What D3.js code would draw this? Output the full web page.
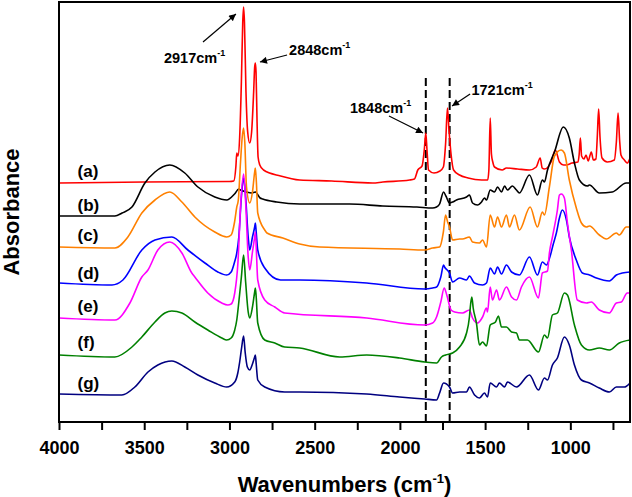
<!DOCTYPE html>
<html><head><meta charset="utf-8">
<script src="https://cdn.jsdelivr.net/npm/d3@7"></script>
<style>
html,body{margin:0;padding:0;background:#fff;}
text{font-family:"Liberation Sans",Arial,sans-serif;font-weight:bold;}
</style></head>
<body>
<svg id="chart" width="632" height="497"></svg>
<script>
// ---------- data (wavenumber cm-1, stacked absorbance a.u.) ----------
const seriesA = [[4000,239],[3500,240],[3000,240.5],[2975,241],[2962,256],[2957,269],[2950,266],[2940,285],[2930,340],[2922,400],[2917,415],[2912,400],[2903,330],[2893,290],[2881,279],[2870,290],[2858,330],[2852,355],[2848,359],[2844,350],[2838,300],[2832,265],[2822,257],[2800,252],[2700,246],[2588,242],[2400,241],[2160,239],[2100,240],[1943,242],[1915,243],[1895,252],[1870,256],[1857,272],[1848,289],[1841,272],[1832,252],[1800,249],[1765,251],[1745,255],[1732,278],[1721,314],[1712,292],[1700,268],[1685,252],[1650,247],[1600,244],[1520,242],[1485,242],[1478,252],[1470,304],[1463,268],[1455,260],[1445,255],[1400,252],[1375,254],[1310,253],[1240,252],[1200,255],[1177,264],[1165,254],[1152,253],[1113,260],[1088,272],[1064,260],[1040,257],[1025,257],[990,259],[955,260],[948,268],[941,284],[934,266],[920,263],[908,267],[895,261],[884,267],[877,270],[865,262],[850,263],[842,285],[834,313],[826,285],[814,264],[783,260],[742,262],[730,280],[720,309],[711,282],[703,267],[683,262],[666,259],[650,264]];
const seriesB = [[4000,206],[3672,206],[3630,209],[3572,215],[3496,239],[3437,250],[3350,257],[3262,249],[3185,235],[3086,225],[3016,222],[2970,228],[2945,233],[2935,232],[2900,230],[2870,229],[2848,230],[2820,224],[2805,223],[2723,220],[2588,218],[2295,218],[2101,216],[1900,215],[1808,214],[1785,215],[1767,218],[1744,230],[1730,226],[1709,219],[1691,220],[1668,222],[1609,225],[1592,227],[1574,219],[1545,217],[1521,220],[1504,224],[1492,222],[1470,232],[1445,230],[1427,235],[1404,230],[1386,236],[1369,232],[1340,236],[1316,232],[1299,229],[1240,247],[1193,227],[1164,242],[1152,240],[1134,252],[1093,270],[1041,295],[1006,284],[976,259],[947,242],[900,236],[888,237],[830,229],[754,230],[672,239],[650,239]];
const seriesC = [[4000,175],[3672,174],[3596,185],[3514,209],[3437,222],[3350,230],[3279,220],[3203,205],[3086,190],[3016,185],[2990,187],[2970,200],[2957,215],[2948,222],[2935,260],[2925,285],[2917,294],[2910,280],[2900,235],[2881,219],[2865,230],[2852,250],[2848,254],[2842,240],[2834,209],[2793,192],[2780,189],[2687,184],[2588,178],[2471,175],[2000,173],[1855,172],[1808,174],[1767,175],[1745,190],[1732,207],[1720,200],[1709,195],[1691,182],[1650,183],[1633,183],[1592,185],[1574,180],[1533,179],[1515,182],[1492,175],[1470,207],[1445,195],[1427,205],[1404,195],[1375,207],[1357,195],[1328,207],[1299,192],[1236,215],[1193,195],[1164,210],[1152,207],[1123,235],[1093,266],[1054,272],[1035,269],[1006,242],[965,214],[935,199],[906,195],[888,196],[830,187],[789,183],[730,189],[713,187],[672,195],[650,195]];
const seriesD = [[4000,139],[3689,137],[3625,142],[3514,172],[3437,182],[3338,185],[3244,172],[3144,159],[3068,150],[3016,147],[2990,150],[2970,160],[2957,169],[2945,185],[2930,225],[2917,244],[2905,225],[2890,185],[2881,172],[2865,185],[2852,195],[2848,199],[2843,190],[2834,172],[2793,154],[2700,142],[2588,142],[2195,139],[1855,133],[1808,134],[1785,135],[1760,145],[1744,157],[1738,155],[1709,149],[1691,140],[1650,144],[1609,142],[1592,146],[1562,139],[1515,137],[1492,139],[1470,154],[1445,148],[1427,155],[1404,148],[1375,157],[1345,150],[1299,147],[1240,165],[1193,147],[1164,160],[1140,157],[1120,165],[1100,178],[1082,189],[1064,204],[1047,212],[1023,202],[1006,185],[965,162],[929,149],[888,147],[847,144],[771,141],[730,147],[695,149],[650,150]];
const seriesE = [[4000,104],[3672,102],[3584,119],[3514,145],[3478,152],[3420,172],[3350,180],[3279,169],[3221,149],[3203,145],[3127,129],[3045,119],[3010,117],[2990,118],[2969,129],[2950,160],[2935,215],[2917,248],[2905,220],[2890,165],[2881,152],[2865,170],[2852,185],[2848,190],[2843,175],[2834,142],[2793,122],[2734,115],[2676,109],[2195,104],[1855,97],[1808,99],[1785,105],[1760,120],[1740,134],[1725,127],[1700,112],[1679,110],[1633,109],[1592,112],[1574,104],[1545,99],[1515,105],[1492,114],[1486,110],[1470,135],[1457,122],[1433,132],[1416,122],[1375,135],[1345,125],[1316,122],[1287,135],[1240,145],[1187,124],[1164,149],[1134,151],[1123,169],[1105,185],[1076,212],[1064,227],[1052,228],[1035,224],[1017,199],[994,172],[959,122],[906,119],[877,120],[830,112],[771,109],[730,119],[701,120],[666,129],[650,129]];
const seriesF = [[4000,67],[3672,65],[3572,75],[3514,85],[3437,100],[3379,109],[3338,111],[3279,109],[3203,100],[3127,92],[3045,84],[3016,82],[2990,84],[2969,92],[2957,102],[2945,120],[2930,145],[2917,167],[2905,140],[2890,110],[2881,104],[2865,115],[2852,130],[2848,134],[2843,125],[2834,99],[2793,82],[2734,79],[2676,75],[2588,74],[2353,65],[2195,67],[2002,64],[1855,60],[1785,59],[1756,65],[1732,67],[1691,69],[1650,75],[1609,89],[1592,105],[1585,118],[1578,125],[1570,114],[1551,99],[1533,77],[1515,80],[1492,76],[1470,97],[1439,100],[1422,106],[1404,95],[1375,95],[1345,90],[1316,89],[1299,82],[1252,82],[1187,70],[1152,87],[1134,84],[1105,107],[1076,109],[1035,129],[1017,127],[976,97],[935,77],[888,72],[830,74],[771,72],[713,79],[650,82]];
const seriesG = [[4000,28],[3631,27],[3555,35],[3478,50],[3420,57],[3338,61],[3262,55],[3185,47],[3086,39],[3016,35],[2969,40],[2951,49],[2940,60],[2928,75],[2917,86],[2908,70],[2895,55],[2881,52],[2865,58],[2852,65],[2848,67],[2843,58],[2834,42],[2793,35],[2676,30],[2588,30],[2195,28],[2002,25],[1855,23],[1785,22],[1767,29],[1744,39],[1709,35],[1691,29],[1650,30],[1609,30],[1592,35],[1562,27],[1533,24],[1504,29],[1486,25],[1470,39],[1433,35],[1416,39],[1386,35],[1369,40],[1316,35],[1240,47],[1187,32],[1152,44],[1134,42],[1105,57],[1076,64],[1035,85],[1006,77],[976,57],[935,42],[888,39],[830,34],[771,30],[730,35],[683,35],[650,39]];

const seriesNames = ["(a)","(b)","(c)","(d)","(e)","(f)","(g)"];
const seriesLabelAbs = [245,211,181.5,143,110,74,33];
const labelWn = 3891;
const xTickLabels = [4000,3500,3000,2500,2000,1500,1000];
const xMinorTicks = [3750,3250,2750,2250,1750,1250,750];
const dashedWn = [1848,1708];
const dashTopAbs = 344;
// annotation: text, text anchor point, arrow tail, arrow tip (data coords)
const annText = ["2917","2848","1848","1721"];
const annTextPos = [[3384,359],[2650,367],[2293,309],[1580,327]];
const annTail = [[3155,380],[2662,367],[2064,306],[1588,328]];
const annTip = [[2962,408],[2821,360],[1864,289],[1694,316]];

const colors = ["#FF0000","#000000","#FF8000","#0000FF","#FF00FF","#008000","#000080"];

// ---------- chart ----------
const svg = d3.select("#chart");
const L=59, R=630, T=2, B=422;
const x = d3.scaleLinear().domain([4000,650]).range([L,R]);
const y = d3.scaleLinear().domain([0,420]).range([B,T]);

const allSeries = [seriesA,seriesB,seriesC,seriesD,seriesE,seriesF,seriesG];
const line = d3.line().x(d=>x(d[0])).y(d=>y(d[1])).curve(d3.curveMonotoneX);

const plot = svg.append("g");
plot.append("defs").append("clipPath").attr("id","clip")
  .append("rect").attr("x",L).attr("y",T).attr("width",R-L).attr("height",B-T);

// dashed lines
plot.selectAll("line.dash").data(dashedWn).enter().append("line")
  .attr("x1",d=>x(d)).attr("x2",d=>x(d)).attr("y1",y(dashTopAbs)).attr("y2",y(0))
  .attr("stroke","#000").attr("stroke-width",2).attr("stroke-dasharray","8,4");

plot.append("g").attr("clip-path","url(#clip)").selectAll("path").data(allSeries).enter().append("path")
  .attr("d",line).attr("fill","none").attr("stroke",(d,i)=>colors[i])
  .attr("stroke-width",1.6).attr("stroke-linejoin","round");

// series labels
svg.selectAll("text.lab").data(seriesNames).enter().append("text")
  .attr("x",x(labelWn)).attr("y",(d,i)=>y(seriesLabelAbs[i]))
  .attr("font-size",17).attr("fill","#000").text(d=>d);

// axes
const xAxis = d3.axisBottom(x).tickValues(xTickLabels).tickSize(8).tickPadding(11).tickFormat(d3.format("d"));
const gx = svg.append("g").attr("transform",`translate(0,${B})`).call(xAxis);
gx.select(".domain").remove();
gx.selectAll(".tick line").attr("stroke","#000").attr("stroke-width",2);
gx.selectAll(".tick text").attr("font-size",18).attr("font-family","'Liberation Sans',Arial,sans-serif").attr("font-weight","bold").attr("fill","#000");
const xMinor = d3.axisBottom(x).tickValues(xMinorTicks).tickSize(8).tickFormat("");
const gm = svg.append("g").attr("transform",`translate(0,${B})`).call(xMinor);
gm.select(".domain").remove();
gm.selectAll(".tick line").attr("stroke","#000").attr("stroke-width",2);

// frame
svg.append("rect").attr("x",L).attr("y",T).attr("width",R-L).attr("height",B-T)
  .attr("fill","none").attr("stroke","#000").attr("stroke-width",2);

// axis titles
const xt = svg.append("text").attr("x",(L+R)/2).attr("y",492).attr("text-anchor","middle").attr("font-size",22);
xt.append("tspan").text("Wavenumbers (cm");
xt.append("tspan").attr("font-size",13).attr("dy",-9).text("-1");
xt.append("tspan").attr("dy",9).text(")");
svg.append("text").attr("transform",`translate(19,${(T+B)/2}) rotate(-90)`).attr("text-anchor","middle")
  .attr("font-size",22).text("Absorbance");

// annotations
const defs = svg.append("defs");
defs.append("marker").attr("id","arr").attr("viewBox","0 0 10 10").attr("refX",10).attr("refY",5)
  .attr("markerWidth",9).attr("markerHeight",7).attr("markerUnits","userSpaceOnUse").attr("orient","auto")
  .append("path").attr("d","M0,0 L10,5 L0,10 Z").attr("fill","#000");
annText.forEach((t,i)=>{
  svg.append("line").attr("x1",x(annTail[i][0])).attr("y1",y(annTail[i][1]))
    .attr("x2",x(annTip[i][0])).attr("y2",y(annTip[i][1]))
    .attr("stroke","#000").attr("stroke-width",1.2).attr("marker-end","url(#arr)");
  const tx = svg.append("text").attr("x",x(annTextPos[i][0])).attr("y",y(annTextPos[i][1])).attr("font-size",14.5);
  tx.append("tspan").text(t+"cm");
  tx.append("tspan").attr("font-size",9).attr("dy",-7).text("-1");
});
</script>
</body></html>
